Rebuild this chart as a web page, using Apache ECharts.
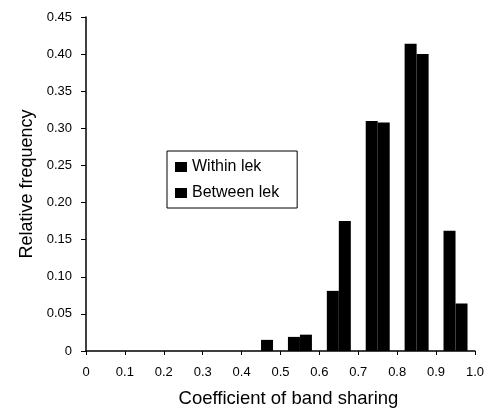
<!DOCTYPE html>
<html>
<head>
<meta charset="utf-8">
<script src="https://cdn.jsdelivr.net/npm/echarts@6/dist/echarts.min.js"></script>
<style>
html,body{margin:0;padding:0;background:#fff;}
#chart{width:487px;height:413px;}
</style>
</head>
<body>
<div id="chart"></div>
<script>
// Bin centres of the coefficient of band sharing
var binCenters = [0.05, 0.15, 0.25, 0.35, 0.45, 0.55, 0.65, 0.75, 0.85, 0.95];
var withinLek  = [0, 0, 0, 0, 0, 0.019, 0.081, 0.310, 0.414, 0.162];
var betweenLek = [0, 0, 0, 0, 0.015, 0.022, 0.175, 0.308, 0.400, 0.064];
var seriesNames = ['Within lek', 'Between lek'];
var xTicks = ['0','0.1','0.2','0.3','0.4','0.5','0.6','0.7','0.8','0.9','1.0'];

function pairs(vals){ return binCenters.map(function(c,i){ return [c, vals[i]]; }); }

var font = 'Liberation Sans, Arial, Helvetica, sans-serif';
var chart = echarts.init(document.getElementById('chart'), null, {renderer:'canvas'});
chart.setOption({
  animation:false,
  backgroundColor:'#fff',
  grid:{left:86, right:12, top:17, bottom:56, containLabel:false},
  legend:{
    orient:'vertical', left:167, top:151,
    padding:[8,18,7,8], itemGap:10,
    itemWidth:12, itemHeight:10,
    borderColor:'#000', borderWidth:1,
    icon:'rect',
    textStyle:{color:'#000', fontSize:16, fontFamily:font},
    data:seriesNames
  },
  xAxis:{
    type:'value', min:0, max:1, interval:0.1,
    name:'Coefficient of band sharing', nameLocation:'middle', nameGap:38,
    nameTextStyle:{color:'#000', fontSize:18.5, fontFamily:font, padding:[0,0,0,16]},
    axisLine:{show:true, lineStyle:{color:'#000', width:1.5}},
    axisTick:{show:true, length:4, lineStyle:{color:'#000'}},
    axisLabel:{color:'#000', fontSize:13, fontFamily:font, margin:15,
      formatter:function(v){ return xTicks[Math.round(v*10)]; }},
    splitLine:{show:false}
  },
  yAxis:{
    type:'value', min:0, max:0.45, interval:0.05,
    name:'Relative frequency', nameLocation:'middle', nameGap:49, nameRotate:90,
    nameTextStyle:{color:'#000', fontSize:18, fontFamily:font},
    axisLine:{show:true, lineStyle:{color:'#000', width:1.5}},
    axisTick:{show:true, length:5, lineStyle:{color:'#000'}},
    axisLabel:{color:'#000', fontSize:13, fontFamily:font, margin:14,
      formatter:function(v){ return v===0 ? '0' : v.toFixed(2); }},
    splitLine:{show:false}
  },
  series:[
    {name:seriesNames[0], type:'bar', data:pairs(withinLek), barWidth:12, barGap:'0%',
     itemStyle:{color:'#000'}},
    {name:seriesNames[1], type:'bar', data:pairs(betweenLek), barWidth:12, barGap:'0%',
     itemStyle:{color:'#000'}}
  ]
});
</script>
</body>
</html>
